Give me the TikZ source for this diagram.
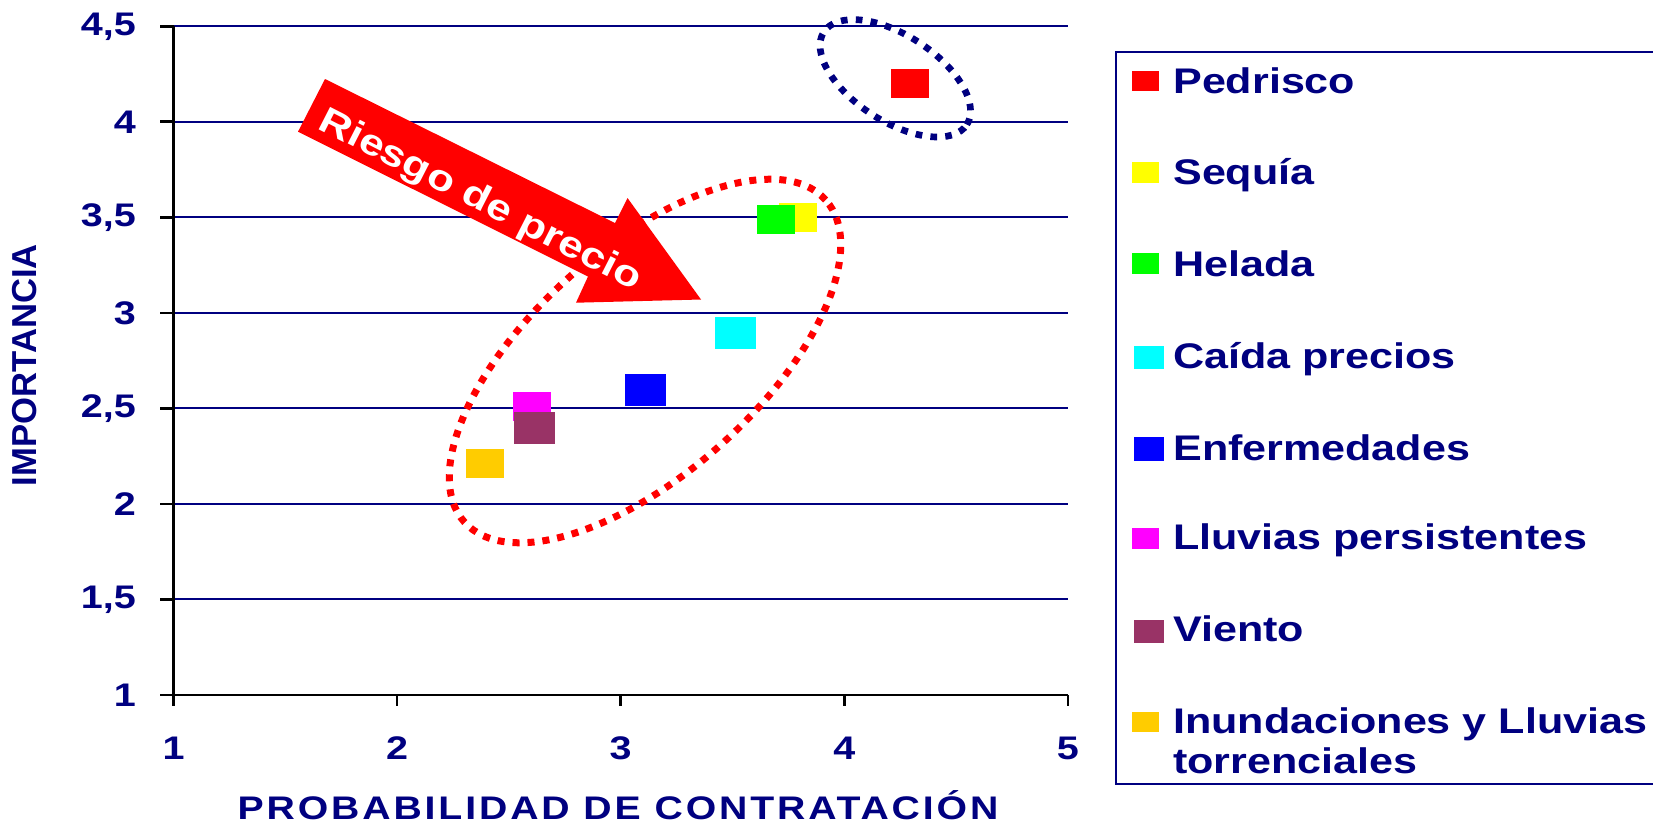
\documentclass[tikz,border=0pt]{standalone}
\usepackage{fontspec}
\setmainfont{Liberation Sans}[FakeStretch=1.21]
\newfontfamily\ytitlefont{Liberation Sans}
\newfontfamily\xtitlefont{Liberation Sans}[FakeStretch=1.2,LetterSpace=8.8]
\definecolor{navy}{HTML}{000080}
\definecolor{maroon}{HTML}{993366}
\definecolor{gold}{HTML}{FFCC00}
\definecolor{puregreen}{HTML}{00FF00}
\definecolor{purecyan}{HTML}{00FFFF}
\definecolor{puremagenta}{HTML}{FF00FF}
\definecolor{pureyellow}{HTML}{FFFF00}
\definecolor{pureblue}{HTML}{0000FF}
\definecolor{purered}{HTML}{FF0000}
\tikzset{
  gridline/.style={navy, line width=1.5pt},
  axisline/.style={black, line width=2pt},
  ticklabel/.style={text=navy, inner sep=0pt, font=\fontsize{24.5}{24.5}\selectfont\bfseries},
  datapt/.style={inner sep=0pt, minimum width=28.5pt, minimum height=21.75pt},
  bigpt/.style={datapt, minimum width=30.75pt, minimum height=24pt},
  legmark/.style={inner sep=0pt, minimum width=20pt, minimum height=15.4pt},
  biglegmark/.style={legmark, minimum width=22.5pt, minimum height=17.6pt},
  legtext/.style={anchor=base west, inner sep=0pt, text=navy, font=\fontsize{26.7}{30}\selectfont\bfseries, align=left},
  reddots/.style={purered, line width=5.25pt, dash pattern=on 5.25pt off 6pt},
  navydots/.style={navy, line width=5pt, dash pattern=on 5pt off 6.2pt},
}
\begin{document}
\begin{tikzpicture}[x=0.75pt,y=-0.75pt]
\useasboundingbox (0,0) rectangle (1653,822);
% gridlines
\foreach \v in {1.5,2,2.5,3,3.5,4,4.5}{
  \pgfmathsetmacro{\yy}{695-(\v-1)*191.06}
  \draw[gridline] (173.5,\yy) -- (1068,\yy);
}
% y ticks and labels
\foreach \v/\lab [count=\i] in {1/1,1.5/{1,5},2/2,2.5/{2,5},3/3,3.5/{3,5},4/4,4.5/{4,5}}{
  \pgfmathsetmacro{\yy}{695-(\v-1)*191.06}
  \draw[axisline] (160,\yy) -- (173.5,\yy);
  \node[ticklabel, anchor=east] (ylab\i) at (136,\yy) {\lab};
}
% x ticks and labels
\foreach \v [count=\i] in {1,2,3,4,5}{
  \pgfmathsetmacro{\xx}{173.5+(\v-1)*223.6}
  \draw[axisline] (\xx,695) -- (\xx,706);
  \node[ticklabel] (xlab\i) at (\xx,748) {\v};
}
% axes
\draw[axisline] (173.5,26.3) -- (173.5,695) -- (1068,695);
% axis titles
\node[text=navy, inner sep=0pt, font=\xtitlefont\fontsize{24.5}{24.5}\selectfont\bfseries] (xtitle) at (618,805) {PROBABILIDAD DE CONTRATACIÓN};
\node[rotate=90, text=navy, inner sep=0pt, font=\ytitlefont\fontsize{26}{26}\selectfont\bfseries] (ytitle) at (25,365) {IMPORTANCIA};
% data points
\node[datapt, fill=purered] (p1) at (910,83) {};
\node[datapt, fill=pureyellow] (p2) at (798,217) {};
\node[datapt, fill=puregreen] (p3) at (776,219) {};
\node[bigpt, fill=purecyan] (p4) at (735,333) {};
\node[bigpt, fill=pureblue] (p5) at (645,389.5) {};
\node[datapt, fill=puremagenta] (p6) at (531.7,406.3) {};
\node[bigpt, fill=maroon] (p7) at (534.5,427.8) {};
\node[datapt, fill=gold] (p8) at (485.3,463.8) {};
% dotted ellipses
\draw[reddots, rotate around={41.7:(645,361)}] (645,361) ellipse [x radius=181.5pt, y radius=84.75pt];
\draw[navydots, rotate around={-32.9:(895.3,78.3)}] (895.3,78.3) ellipse [x radius=63.9pt, y radius=32.25pt];
% big arrow
\fill[purered] (325,79) -- (615,223) -- (627.5,198) -- (701,299.5) -- (576,302.7) -- (588,276.5) -- (298,131.7) -- cycle;
\node[rotate=-27, text=white, inner sep=0pt, font=\fontsize{27.5}{27.5}\selectfont\bfseries] (arrowtext) at (480,201) {Riesgo de precio};
% legend
\draw[navy, line width=1.5pt] (1700,51.5) -| (1116,784) -- (1700,784);
\node[legmark, fill=purered] (m1) at (1145.8,81) {};
\node[legmark, fill=pureyellow] (m2) at (1145.8,172.5) {};
\node[legmark, fill=puregreen] (m3) at (1145.8,263.7) {};
\node[biglegmark, fill=purecyan] (m4) at (1149,357.5) {};
\node[biglegmark, fill=pureblue] (m5) at (1149,449) {};
\node[legmark, fill=puremagenta] (m6) at (1145.8,538.7) {};
\node[biglegmark, fill=maroon] (m7) at (1149,631.7) {};
\node[legmark, fill=gold] (m8) at (1145.8,722) {};
\node[legtext] (t1) at (1173,93.3) {Pedrisco};
\node[legtext] (t2) at (1173,184.3) {Sequía};
\node[legtext] (t3) at (1173,276) {Helada};
\node[legtext] (t4) at (1173,368.3) {Caída precios};
\node[legtext] (t5) at (1173,460) {Enfermedades};
\node[legtext] (t6) at (1173,549) {Lluvias persistentes};
\node[legtext] (t7) at (1173,641.7) {Viento};
\node[legtext] (t8) at (1173,773.3) {Inundaciones y Lluvias\\torrenciales};
\end{tikzpicture}
\end{document}
